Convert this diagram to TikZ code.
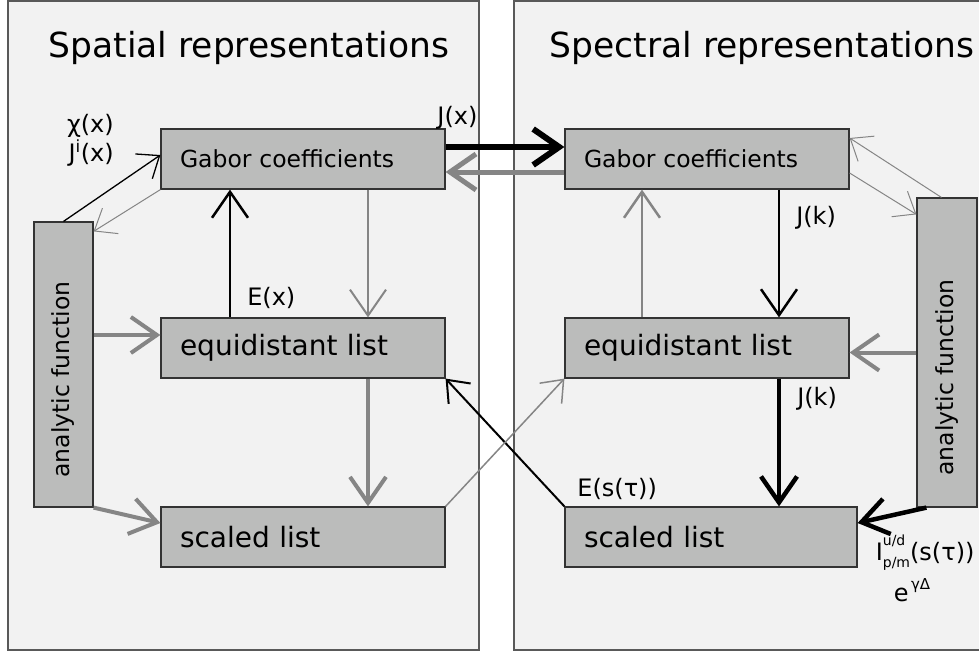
\documentclass[tikz,border=0pt]{standalone}
\usepackage{fontspec}
\setmainfont{DejaVu Sans}
\usetikzlibrary{arrows.meta,positioning,calc}
\definecolor{panelbg}{HTML}{F2F2F2}
\definecolor{boxfill}{HTML}{BBBCBB}
\definecolor{boxline}{HTML}{333333}
\definecolor{arrgray}{HTML}{858585}

\begin{document}
\begin{tikzpicture}[x=1pt, y=-1pt,
  box/.style={draw=boxline, fill=boxfill, line width=1.2pt, minimum width=284pt,
    minimum height=60pt, text width=246pt, inner xsep=19pt, inner ysep=0pt, align=left,
    font=\fontsize{28}{32}\selectfont},
  anabox/.style={draw=boxline, fill=boxfill, line width=1.2pt, inner sep=0pt},
  lbl/.style={inner sep=0pt, font=\fontsize{24}{28.8}\selectfont},
  barbS/.tip={Straight Barb[length=19pt,width=30pt]},
  barbL/.tip={Straight Barb[length=26pt,width=36pt]}]
  \useasboundingbox (0,0) rectangle (979,653);
  \clip (0,0) rectangle (979,653);

  % the two panels
  \draw[fill=panelbg, draw=black!65, line width=1.5pt] (8,1) rectangle (479,650);
  \draw[fill=panelbg, draw=black!65, line width=1.5pt] (514,1) rectangle (990,650);
  \node[font=\fontsize{34.5}{40}\selectfont] (titleL) at (249,48) {Spatial representations};
  \node[font=\fontsize{34.5}{40}\selectfont] (titleR) at (762,48) {Spectral representations};

  % spatial side
  \node[box, font=\fontsize{23.5}{28}\selectfont] (gabL) at (303,159) {\raisebox{-4pt}{Gabor coefficients}};
  \node[box] (equL) at (303,348) {\raisebox{-2pt}{equidistant list}};
  \node[box] (scaL) at (303,537) {\raisebox{-2pt}{scaled list}};
  \node[anabox, minimum width=59pt, minimum height=285pt] (anaL) at (63.5,364.5) {};
  \node[rotate=90, font=\fontsize{23.5}{28}\selectfont] at ($(anaL.center)+(0,15)$) {analytic function};

  % spectral side
  \node[box, font=\fontsize{23.5}{28}\selectfont] (gabR) at (707,159) {\raisebox{-4pt}{Gabor coefficients}};
  \node[box] (equR) at (707,348) {\raisebox{-2pt}{equidistant list}};
  \node[box, minimum width=292pt, text width=254pt] (scaR) at (711,537) {\raisebox{-2pt}{scaled list}};
  \node[anabox, minimum width=60pt, minimum height=309pt] (anaR) at (947,352.5) {};
  \node[rotate=90, font=\fontsize{23.5}{28}\selectfont] at ($(anaR.center)+(0,25)$) {analytic function};

  \coordinate (qL) at ($(equL.west)+(0,-13)$);

  % spatial arrows
  \draw[black, line width=1.3pt, -{barbS}] (anaL.north) -- ([yshift=4pt]gabL.west);
  \draw[arrgray, line width=1pt, -{barbS}] (gabL.south west) -- ([yshift=-10pt]anaL.north east);
  \node[lbl, align=right, anchor=east] (chiLbl) at (114,140) {χ(x)\\J\textsuperscript{i}(x)};
  \draw[arrgray, line width=4pt, -{barbL}] (anaL.east |- qL) -- (qL);
  \draw[arrgray, line width=4pt, -{barbL}] (anaL.south east) -- ([yshift=14pt]scaL.west);
  \draw[arrgray, line width=2pt, -{barbL}] ([xshift=65pt]gabL.south) -- ([xshift=65pt]equL.north);
  \draw[black, line width=2.5pt, -{barbL}] ([xshift=-73pt]equL.north) -- ([xshift=-73pt]gabL.south)
    node[lbl, pos=0.15, right=16pt] {E(x)};
  \draw[arrgray, line width=4pt, -{barbL}] ([xshift=65pt]equL.south) -- ([xshift=65pt]scaL.north);

  % between the panels
  \draw[black, line width=6pt, -{barbL}] ([yshift=12pt]gabL.east) -- ([yshift=12pt]gabR.west)
    node[lbl, pos=0.1, above=15pt] {J(x)};
  \draw[arrgray, line width=5pt, -{barbL}] ([yshift=-13pt]gabR.west) -- ([yshift=-13pt]gabL.east);
  \draw[black, line width=2pt, -{barbS}] (scaR.north west)
    node[lbl, anchor=south west, xshift=12pt, yshift=6pt] {E(s(τ))} -- (equL.south east);
  \draw[arrgray, line width=1.5pt, -{barbS}] (scaL.north east) -- (equR.south west);

  % spectral arrows
  \draw[black, line width=2.5pt, -{barbL}] ([xshift=72pt]gabR.south) -- ([xshift=72pt]equR.north)
    node[lbl, pos=0.22, right=16pt] {J(k)};
  \draw[arrgray, line width=2.5pt, -{barbL}] ([xshift=-65pt]equR.north) -- ([xshift=-65pt]gabR.south);
  \draw[black, line width=4.5pt, -{barbL}] ([xshift=72pt]equR.south) -- ([xshift=68pt]scaR.north)
    node[lbl, pos=0.155, right=16pt] {J(k)};
  \draw[arrgray, line width=4pt, -{barbL}] (anaR.west) -- (anaR.west -| equR.east);
  \draw[black, line width=4.5pt, -{barbL}] ([xshift=10pt]anaR.south west) -- ([yshift=14pt]scaR.east);
  \draw[arrgray, line width=1pt, -{barbS}] ([xshift=25pt]anaR.north west) -- ([yshift=21pt]gabR.east);
  \draw[arrgray, line width=1pt, -{barbS}] ([yshift=-14pt]gabR.east) -- ([yshift=-17pt]anaR.north west);
  \node[lbl, anchor=west] (ipm) at ([xshift=18pt, yshift=-16pt]scaR.east)
    {I\rlap{\raisebox{0.62em}{\fontsize{14}{14}\selectfont u/d}}\raisebox{-0.3em}{\fontsize{14}{14}\selectfont p/m}(s(τ))};
  \node[lbl, anchor=north west] (egd) at ([xshift=18pt, yshift=-7pt]ipm.south west)
    {e\raisebox{0.5em}{\fontsize{15}{15}\selectfont\,γΔ}};
\end{tikzpicture}
\end{document}
